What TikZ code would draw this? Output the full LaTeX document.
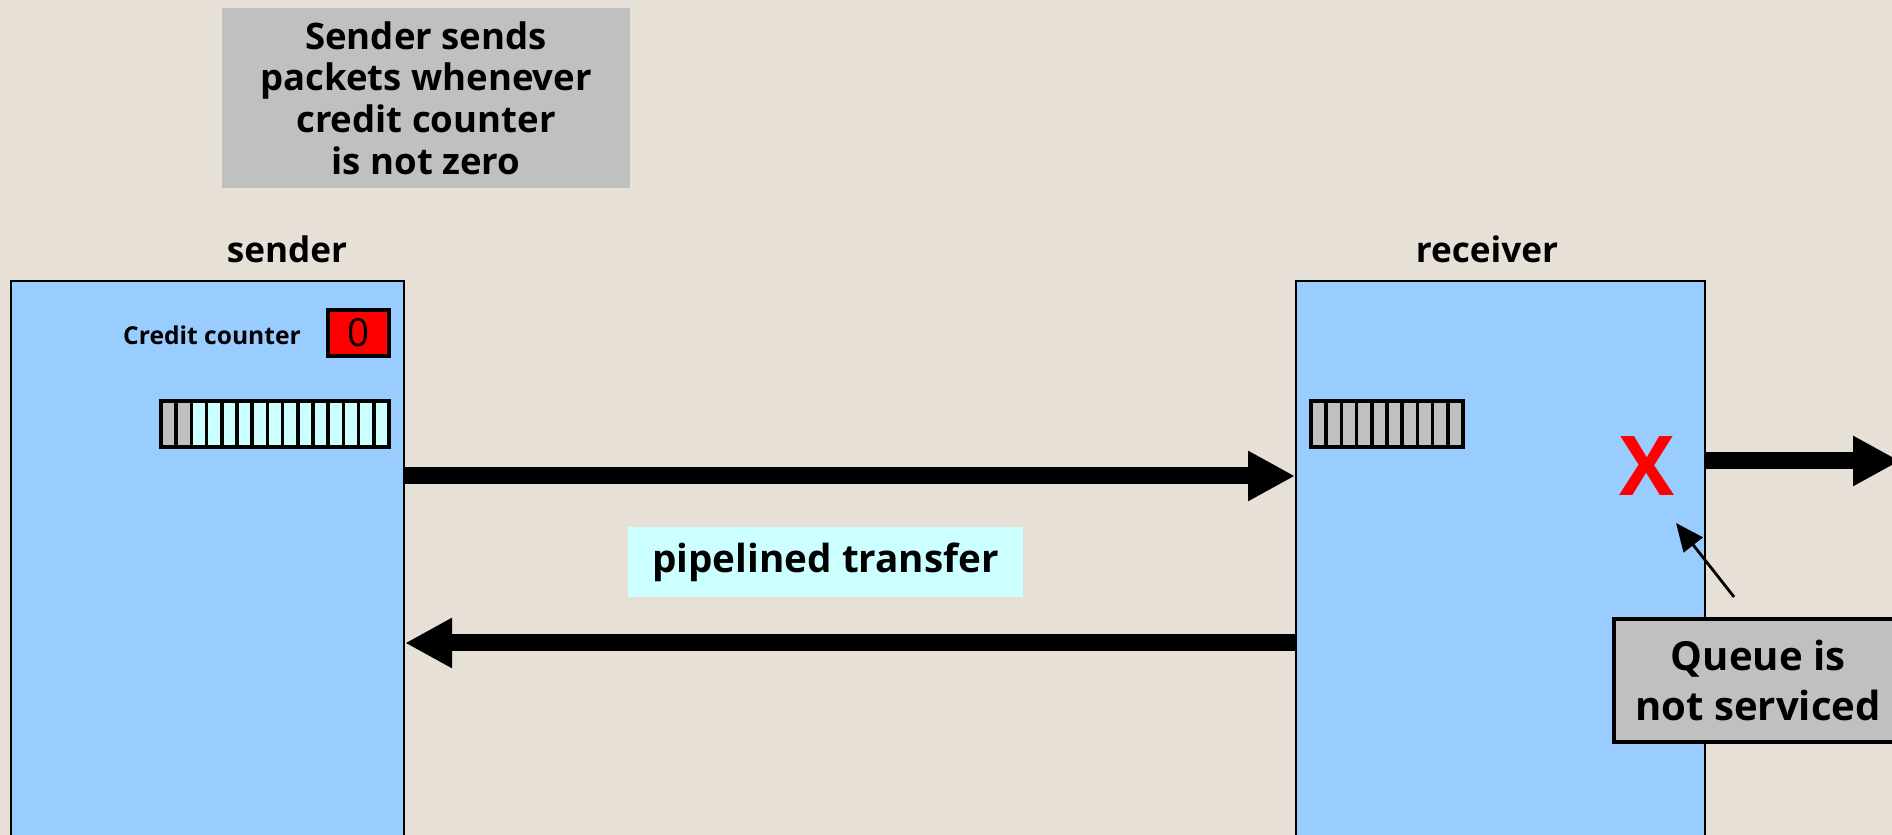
\documentclass[tikz,border=0pt]{standalone}
\usepackage{fontspec}
\setsansfont{Open Sans}
\usetikzlibrary{arrows.meta}
\begin{document}
\begin{tikzpicture}[>=latex,
  every node/.style={font=\sffamily\bfseries},
  host/.style={draw,line width=0.6pt,fill=hostblue,anchor=north west,minimum width=3.93cm,minimum height=5.8cm},
  note/.style={fill=notegray,align=center,inner sep=0pt},
  link/.style={line width=0.17cm,-{Triangle[length=4.7mm,width=4.7mm]}},
  slot/.style={draw,line width=1pt}]
\definecolor{paper}{RGB}{230,224,214}
\definecolor{hostblue}{RGB}{153,204,255}
\definecolor{slotcyan}{RGB}{204,255,255}
\definecolor{notegray}{RGB}{192,192,192}
\useasboundingbox (0,0) rectangle (18.92,8.35);
\fill[paper] (0,0) rectangle (18.92,8.35);
% the two ends of the link
\node[host] (sender) at (0.10,5.55) {};
\node[host,minimum width=4.09cm] (receiver) at (12.95,5.55) {};
\node[anchor=base,font=\fontsize{10}{12}\sffamily\bfseries] (sname) at (2.87,5.72) {sender};
\node[anchor=base,font=\fontsize{10}{12}\sffamily\bfseries] (rname) at (14.87,5.72) {receiver};
% credit counter
\node[font=\fontsize{7}{8}\sffamily\bfseries] (ctext) at (2.12,5.00) {Credit counter};
\node[draw,line width=0.9pt,fill=red,minimum width=0.61cm,minimum height=0.46cm,inner sep=0pt,
  font=\fontsize{11}{12}\sffamily] (credit) at (3.585,5.02) {0};
% sender queue: two used slots, the rest free
\foreach \i in {0,...,14} {
  \ifnum\i<2 \def\c{notegray}\else\def\c{slotcyan}\fi
  \fill[\c] (1.61+0.152*\i,3.88) rectangle ++(0.152,0.46);
  \draw[slot] (1.61+0.152*\i,3.88) rectangle ++(0.152,0.46);
}
% receiver queue: full
\foreach \i in {0,...,9} {
  \fill[notegray] (13.11+0.152*\i,3.88) rectangle ++(0.152,0.46);
  \draw[slot] (13.11+0.152*\i,3.88) rectangle ++(0.152,0.46);
}
% data and credit paths
\draw[link] (sender.east |- 0,3.59) -- (receiver.west |- 0,3.59);
\draw[link] (receiver.west |- 0,1.92) -- (sender.east |- 0,1.92);
\coordinate (outflow) at (19.00,3.74);
\draw[link] (receiver.east |- outflow) -- (outflow);
\node[fill=slotcyan,minimum width=3.95cm,minimum height=0.70cm,inner sep=0pt,
  font=\fontsize{11}{13}\sffamily\bfseries] (pipe) at (8.255,2.73) {pipelined transfer};
% blocked output
\node[text=red,inner sep=0pt,font=\fontsize{23.5}{24}\sffamily\bfseries] (cross) at (16.47,3.69) {X};
\node[note,draw,line width=0.9pt,minimum width=2.88cm,minimum height=1.23cm,
  font=\fontsize{11.4}{14.5}\sffamily\bfseries] (qnote) at (17.58,1.545) {Queue is\\not serviced};
\coordinate (hint) at (17.34,2.38);
\draw[line width=0.8pt,-{Triangle[length=2.8mm,width=2.4mm]}] (hint) -- ([shift={(0.29,-0.57)}]cross.center);
% remark on top
\node[note,minimum width=4.08cm,minimum height=1.80cm,
  font=\fontsize{10.4}{11.85}\sffamily\bfseries] (remark) at (4.26,7.37)
  {Sender sends\\packets whenever\\credit counter\\is not zero};
\end{tikzpicture}
\end{document}
